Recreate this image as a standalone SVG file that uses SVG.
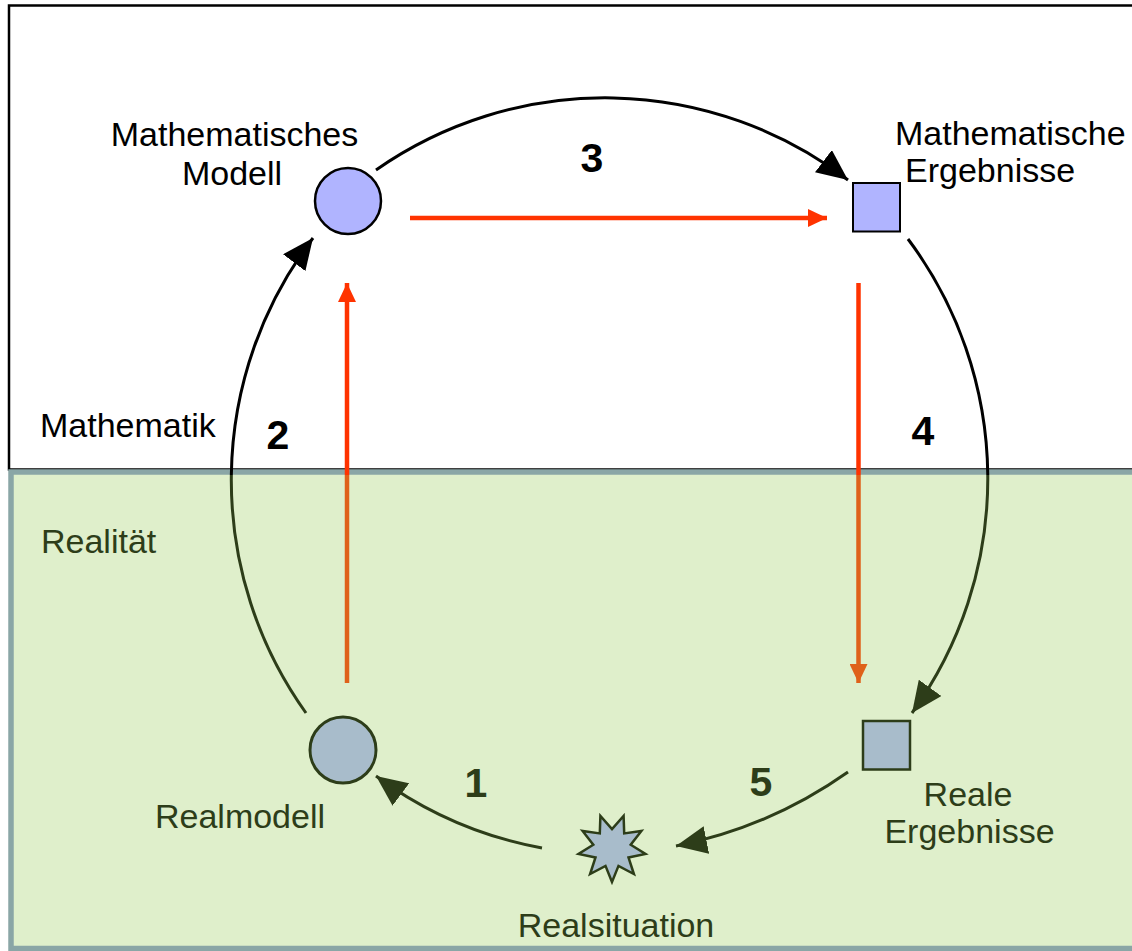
<svg xmlns="http://www.w3.org/2000/svg" width="1132" height="951" viewBox="0 0 1132 951">
<style>
.lbl{font-family:"Liberation Sans",Arial,sans-serif;font-size:34px}
.num{font-family:"Liberation Sans",Arial,sans-serif;font-size:41px;font-weight:bold;text-anchor:middle}
.top{fill:#000}
.bot{fill:#2d3d19}
.arcT{fill:none;stroke:#000;stroke-width:3}
.arcB{fill:none;stroke:#2d3d19;stroke-width:3}
.redT{fill:none;stroke:#ff3300;stroke-width:4.5}
.redB{fill:none;stroke:#df611a;stroke-width:4.5}
</style>
<defs>
<marker id="mBlack" markerUnits="userSpaceOnUse" viewBox="0 0 31 28" refX="31" refY="14" markerWidth="31" markerHeight="28" orient="auto"><path d="M0,0 L31,14 L0,28 Z" fill="#000"/></marker>
<marker id="mGreen" markerUnits="userSpaceOnUse" viewBox="0 0 31 28" refX="31" refY="14" markerWidth="31" markerHeight="28" orient="auto"><path d="M0,0 L31,14 L0,28 Z" fill="#2d3d19"/></marker>
<marker id="mRed" markerUnits="userSpaceOnUse" viewBox="0 0 19 18" refX="19" refY="9" markerWidth="19" markerHeight="18" orient="auto"><path d="M0,0 L19,9 L0,18 Z" fill="#ff3300"/></marker>
<marker id="mOrange" markerUnits="userSpaceOnUse" viewBox="0 0 19 18" refX="19" refY="9" markerWidth="19" markerHeight="18" orient="auto"><path d="M0,0 L19,9 L0,18 Z" fill="#df611a"/></marker>
<clipPath id="cTop"><rect x="0" y="0" width="1132" height="475"/></clipPath>
<clipPath id="cBot"><rect x="0" y="475" width="1132" height="476"/></clipPath>
</defs>

<g id="regions">
<rect id="mathematik-area" x="9" y="5.5" width="1140" height="464" fill="#fff" stroke="#000" stroke-width="2.5"/>
<rect id="realitaet-area" x="11" y="472" width="1140" height="476.5" fill="#dfefcb" stroke="#8aa6a6" stroke-width="5.5"/>
<text class="lbl top" x="40" y="437">Mathematik</text>
<text class="lbl bot" x="41" y="553">Realität</text>
</g>

<g id="connectors">
<path id="arc1" class="arcB" d="M542,848 A400,400 0 0 1 376,776" marker-end="url(#mGreen)"/>
<path id="arc2-bottom" class="arcB" clip-path="url(#cBot)" d="M306,713 A400,400 0 0 1 313,238"/>
<path id="arc2-top" class="arcT" clip-path="url(#cTop)" d="M306,713 A400,400 0 0 1 313,238" marker-end="url(#mBlack)"/>
<path id="arc3" class="arcT" d="M376,170 A400,400 0 0 1 848,180" marker-end="url(#mBlack)"/>
<path id="arc4-top" class="arcT" clip-path="url(#cTop)" d="M908,239 A400,400 0 0 1 912,713"/>
<path id="arc4-bottom" class="arcB" clip-path="url(#cBot)" d="M908,239 A400,400 0 0 1 912,713" marker-end="url(#mGreen)"/>
<path id="arc5" class="arcB" d="M848,772 A450,450 0 0 1 676,846" marker-end="url(#mGreen)"/>
<line id="red-up-bottom" class="redB" clip-path="url(#cBot)" x1="347" y1="683" x2="347" y2="283"/>
<line id="red-up-top" class="redT" clip-path="url(#cTop)" x1="347" y1="683" x2="347" y2="283" marker-end="url(#mRed)"/>
<line id="red-right" class="redT" x1="410" y1="218" x2="827" y2="218" marker-end="url(#mRed)"/>
<line id="red-down-top" class="redT" clip-path="url(#cTop)" x1="858.5" y1="283" x2="858.5" y2="683"/>
<line id="red-down-bottom" class="redB" clip-path="url(#cBot)" x1="858.5" y1="283" x2="858.5" y2="683" marker-end="url(#mOrange)"/>
<text class="num top" x="592" y="172">3</text>
<text class="num top" x="278" y="449">2</text>
<text class="num top" x="923" y="445">4</text>
<text class="num bot" x="476" y="797">1</text>
<text class="num bot" x="761" y="796">5</text>
</g>

<g id="node-mathematisches-modell">
<circle cx="348" cy="201" r="33" fill="#b0b4ff" stroke="#000" stroke-width="2.5"/>
<text class="lbl top" x="234.5" y="146" text-anchor="middle">Mathematisches</text>
<text class="lbl top" x="232" y="185" text-anchor="middle">Modell</text>
</g>

<g id="node-mathematische-ergebnisse">
<rect x="853" y="183" width="47" height="48.5" fill="#b0b4ff" stroke="#000" stroke-width="2"/>
<text class="lbl top" x="895" y="145">Mathematische</text>
<text class="lbl top" x="905" y="182">Ergebnisse</text>
</g>

<g id="node-reale-ergebnisse">
<rect x="863" y="721" width="47" height="48.5" fill="#a8bccb" stroke="#2d3d19" stroke-width="2.5"/>
<text class="lbl bot" x="968" y="806" text-anchor="middle">Reale</text>
<text class="lbl bot" x="969.5" y="843" text-anchor="middle">Ergebnisse</text>
</g>

<g id="node-realsituation">
<polygon points="612,882 605.5,865.9 590.1,874 595.5,857.5 578.5,853.9 593.3,844.7 582.6,831 599.8,833.4 600.4,816 612,829 623.6,816 624.2,833.4 641.4,831 630.7,844.7 645.5,853.9 628.5,857.5 633.9,874 618.5,865.9" fill="#a8bccb" stroke="#2d3d19" stroke-width="2.5" stroke-linejoin="miter"/>
<text class="lbl bot" x="616" y="937" text-anchor="middle">Realsituation</text>
</g>

<g id="node-realmodell">
<circle cx="343" cy="750" r="33" fill="#a8bccb" stroke="#2d3d19" stroke-width="3"/>
<text class="lbl bot" x="240" y="828" text-anchor="middle">Realmodell</text>
</g>
</svg>
